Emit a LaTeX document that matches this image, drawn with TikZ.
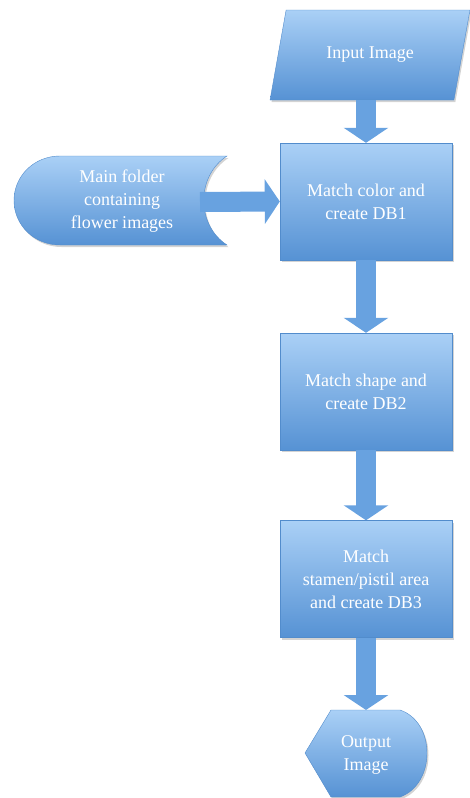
\documentclass[tikz,border=0pt]{standalone}
\usepackage{fontspec}
\setmainfont{Liberation Serif}
\usetikzlibrary{shapes.geometric,arrows.meta,shadows}

\definecolor{boxtop}{RGB}{170,208,246}
\definecolor{boxbot}{RGB}{86,146,212}
\definecolor{boxline}{RGB}{82,140,204}
\definecolor{arrowfill}{RGB}{104,162,224}

\tikzset{
	blueshade/.style={draw=boxline, top color=boxtop, bottom color=boxbot, drop shadow={shadow xshift=1.5pt, shadow yshift=-2pt, opacity=0.35}},
	labeltext/.style={text=white, align=center, font=\fontsize{18}{23}\selectfont},
	stagebox/.style={blueshade, labeltext, rectangle, minimum width=172pt, minimum height=117pt},
	inbox/.style={blueshade, labeltext, trapezium, trapezium left angle=68, trapezium right angle=112, trapezium stretches=true, minimum width=200pt, minimum height=90pt},
	flow/.style={line width=20pt, draw=arrowfill, -{Triangle[length=15pt,width=44pt]}}
}

\begin{document}
\begin{tikzpicture}[x=1pt, y=-1pt]
		\useasboundingbox (0, 0) rectangle (470, 798);
		
		\node[inbox] (in) at (370, 55) {Input Image};
		\node[stagebox] (b1) at (366, 201.5) {Match color and\\create DB1};
		\node[stagebox] (b2) at (366, 391.5) {Match shape and\\create DB2};
		\node[stagebox] (b3) at (366, 579) {Match\\stamen/pistil area\\and create DB3};
		
		% folder with the flower images
		\path[blueshade] (60, 156) -- (227, 156) .. controls (196, 176) and (196, 225) .. (227, 245) -- (60, 245)
			.. controls (34, 245) and (14, 225) .. (14, 200.5) .. controls (14, 176) and (34, 156) .. (60, 156) -- cycle;
		\node[labeltext] (fold) at (122, 201) {Main folder\\containing\\flower images};
		\coordinate (foldout) at (200, 202);
		
		% output shape
		\path[blueshade] (305, 753) -- (331, 710) -- (400, 710) .. controls (436, 722) and (436, 784) .. (400, 797)
			-- (331, 797) -- cycle;
		\node[labeltext] (out) at (366, 755) {Output\\Image};
		\coordinate (outtop) at (366, 710);
		
		\draw[flow] (in.south -| b1.north) -- (b1.north);
		\draw[flow] (foldout) -- (b1.west);
		\draw[flow] (b1.south) -- (b2.north);
		\draw[flow] (b2.south) -- (b3.north);
		\draw[flow] (b3.south) -- (outtop);
	\end{tikzpicture}
\end{document}
